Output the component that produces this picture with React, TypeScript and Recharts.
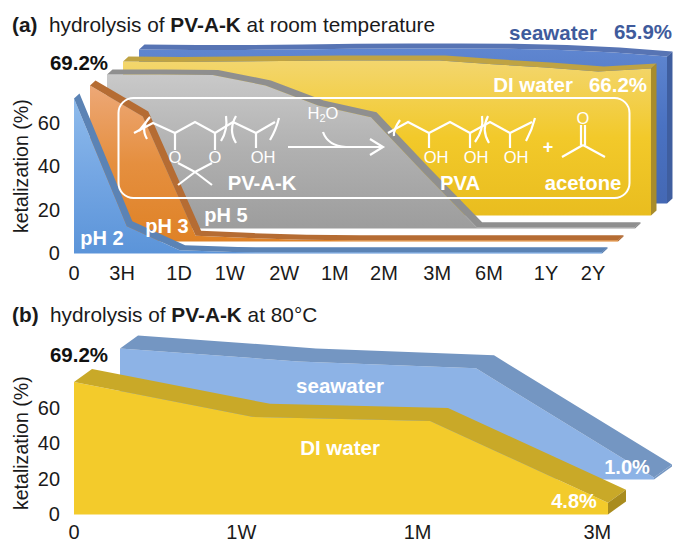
// App.tsx - hydrolysis of PV-A-K, two pseudo-3D area panels
import React from "react";
import { AreaChart, Area, XAxis, YAxis } from "recharts";

const FONT = "'Liberation Sans', Arial, sans-serif";

// panel (a), time positions along the axis
const timeSteps = [0, 1, 2, 3, 4, 5, 6, 7, 8, 9, 10];
const timeTickPos = [0, 0.91, 1.99, 2.95, 3.98, 4.94, 5.87, 6.88, 7.86, 8.94, 9.83];
const timeTickLabels = ["0", "3H", "1D", "1W", "2W", "1M", "2M", "3M", "6M", "1Y", "2Y"];

const ph2 = [71, 12.4, 1.4, 0.6, 0.5, 0.5, 0.5, 0.5, 0.5, 0.5, 0.5];
const ph3 = [71.5, 57.3, 2.6, 1.5, 0.8, 0.5, 0.5, 0.5, 0.5, 0.5, 0.5];
const ph5 = [70.6, 70.6, 70.4, 65.6, 56.4, 51, 25.4, 0.5, 0.5, 0.5, 0.5];
const diWaterA = [70.6, 70.4, 70.6, 70.8, 71, 71.1, 71.1, 69.3, 67.9, 66, 67.4];
const seawaterA = [70.6, 70.4, 70.4, 70.6, 70.9, 71.1, 71.1, 70.9, 70.4, 69.2, 67.4];

// panel (b)
const heatSteps = [0, 1, 2, 3];
const heatTickPos = [0, 0.94, 1.93, 2.94];
const heatTickLabels = ["0", "1W", "1M", "3M"];
const diWaterB = [74.4, 54.8, 52.5, 6.5];
const seawaterB = [73.6, 66.3, 62.4, 1.1];

const yTicks = [0, 20, 40, 60];

const LEFT = 74;
const TOP = 24;
const RIGHT = 40;
const BOTTOM = 40;

// top face and end cap of a layer, computed from the points the area got from its scales
const extrude = (dx: number, dy: number, band: string, cap: string, baseY: number) => (p: any) => {
  if (p.index !== 0) return <g key={p.index} />;
  const pts: { x: number; y: number }[] = p.points;
  const last = pts[pts.length - 1];
  const top = pts.map((q) => `${q.x},${q.y}`);
  const shifted = pts.map((q) => `${q.x + dx},${q.y + dy}`).reverse();
  return (
    <g key="depth">
      <polygon points={[...top, ...shifted].join(" ")} fill={band} />
      <polygon
        points={`${last.x},${last.y} ${last.x + dx},${last.y + dy} ${last.x + dx},${baseY + dy} ${last.x},${baseY}`}
        fill={cap}
      />
    </g>
  );
};

type LayerProps = {
  id: string;
  steps: number[];
  values: number[];
  x0: number; // left of the layer's plot on the page
  base: number; // zero line of the layer on the page
  plotW: number;
  plotH: number;
  grad: [string, string, string];
  band: string;
  cap: string;
  depth: [number, number];
  axes?: { pos: number[]; labels: string[]; margin: number };
};

function Layer({ id, steps, values, x0, base, plotW, plotH, grad, band, cap, depth, axes }: LayerProps) {
  const data = steps.map((x, i) => ({ x, v: values[i] }));
  const w = LEFT + plotW + RIGHT;
  const h = TOP + plotH + BOTTOM;
  const xMax = steps[steps.length - 1];
  return (
    <div style={{ position: "absolute", left: x0 - LEFT, top: base - plotH - TOP, width: w, height: h }}>
      <AreaChart
        width={w}
        height={h}
        data={data}
        margin={{ top: TOP, right: RIGHT, left: axes ? 0 : LEFT, bottom: axes ? 0 : BOTTOM }}
      >
        <defs>
          <linearGradient id={id} x1="0" y1="0" x2="0" y2="1">
            <stop offset="0%" stopColor={grad[0]} />
            <stop offset="50%" stopColor={grad[1]} />
            <stop offset="100%" stopColor={grad[2]} />
          </linearGradient>
        </defs>
        <XAxis
          type="number"
          dataKey="x"
          domain={[0, xMax]}
          hide={!axes}
          height={BOTTOM}
          ticks={axes ? axes.pos : undefined}
          interval={0}
          tickFormatter={(v: number) => (axes ? axes.labels[axes.pos.indexOf(v)] : "")}
          axisLine={false}
          tickLine={false}
          tickMargin={axes ? axes.margin : 0}
          tick={{ fontSize: 20, fontFamily: FONT, fill: "#1a1a1a" }}
        />
        <YAxis
          type="number"
          domain={[0, 80]}
          hide={!axes}
          width={LEFT}
          ticks={yTicks}
          interval={0}
          axisLine={false}
          tickLine={false}
          tickMargin={8}
          tick={{ fontSize: 20, fontFamily: FONT, fill: "#1a1a1a" }}
          label={{
            value: "ketalization (%)",
            angle: -90,
            position: "insideLeft",
            offset: 21,
            style: { fontSize: 19.6, fontFamily: FONT, fill: "#1a1a1a", textAnchor: "middle" },
          }}
        />
        <Area
          dataKey="v"
          type="linear"
          stroke="none"
          fill={`url(#${id})`}
          fillOpacity={1}
          isAnimationActive={false}
          dot={extrude(depth[0], depth[1], band, cap, TOP + plotH)}
          activeDot={false}
        />
      </AreaChart>
    </div>
  );
}

const txt = { fontFamily: FONT, fontWeight: 700, textAnchor: "middle" as const };
const white = { ...txt, fill: "#fff" };

// structure drawing in the rounded box, lines only
const bonds = [
  "M134 133L153 123L175 133L195 122L215 133L233 122L256 133L275 122",
  "M175 133V150M215 133V150M256 133V148",
  "M178 163L195 172L212 163M195 172L178 185M195 172L212 185",
  "M288 147H382M370 139L383 147L370 155",
  "M323 132Q328 146 346 147",
  "M388 133L408 122L429 133L450 122L470 133L490 122L510 133L532 122",
  "M429 133V148M470 133V148M510 133V148",
  "M581 125V145M585 125V145M583 145L562 157M583 145L605 157",
];
const parens = [
  "M150 117Q140 127 147 139M139 131L150 117",
  "M226 116Q228 130 221 141M236 116Q228 130 236 143",
  "M279 118Q276 130 270 140",
  "M400 120Q393 130 394 136",
  "M482 116Q484 130 475 142M488 116Q481 130 489 143",
  "M535 118Q532 130 526 141",
];

function Overlay() {
  return (
    <svg width={675} height={543} style={{ position: "absolute", left: 0, top: 0 }}>
      {/* panel (a) text */}
      <text x={12} y={32} fontFamily={FONT} fontSize={20.8} fill="#1a1a1a">
        <tspan fontWeight={700}>(a)</tspan>
        <tspan x={49}>hydrolysis of </tspan>
        <tspan fontWeight={700}>PV-A-K</tspan>
        <tspan> at room temperature</tspan>
      </text>
      <text x={79} y={70} {...txt} fontSize={20.5} fill="#111">69.2%</text>
      <text x={553} y={40} {...txt} fontSize={20.5} fill="#3f5b9c">seawater</text>
      <text x={643} y={39} {...txt} fontSize={20.5} fill="#3f5b9c">65.9%</text>
      <text x={533} y={92} {...white} fontSize={20.5}>DI water</text>
      <text x={618} y={92} {...white} fontSize={20.5}>66.2%</text>
      <text x={102} y={245} {...white} fontSize={20}>pH 2</text>
      <text x={167} y={233} {...white} fontSize={20}>pH 3</text>
      <text x={226} y={222} {...white} fontSize={20}>pH 5</text>

      <rect x={118.5} y={98} width={511} height={100} rx={15} fill="none" stroke="#fff" strokeWidth={2} />
      {[...bonds, ...parens].map((d, i) => (
        <path key={i} d={d} fill="none" stroke="#fff" strokeWidth={2.2} />
      ))}
      <g fontFamily={FONT} fontSize={16.5} fill="#fff" textAnchor="middle">
        <text x={175} y={163}>O</text>
        <text x={215} y={163}>O</text>
        <text x={263} y={163}>OH</text>
        <text x={436} y={163}>OH</text>
        <text x={476} y={163}>OH</text>
        <text x={516} y={163}>OH</text>
        <text x={583} y={124}>O</text>
        <text x={323} y={119}>H<tspan fontSize={11} dy={3}>2</tspan><tspan dy={-3}>O</tspan></text>
      </g>
      <text x={262} y={190} {...white} fontSize={20.3}>PV-A-K</text>
      <text x={460} y={190} {...white} fontSize={20.3}>PVA</text>
      <text x={583} y={190} {...white} fontSize={20.3}>acetone</text>
      <text x={548} y={153} {...white} fontSize={18}>+</text>

      {/* panel (b) text */}
      <text x={12} y={322} fontFamily={FONT} fontSize={20.8} fill="#1a1a1a">
        <tspan fontWeight={700}>(b)</tspan>
        <tspan x={50}>hydrolysis of </tspan>
        <tspan fontWeight={700}>PV-A-K</tspan>
        <tspan> at 80°C</tspan>
      </text>
      <text x={79} y={362} {...txt} fontSize={20.5} fill="#111">69.2%</text>
      <text x={340} y={393} {...white} fontSize={20.5}>seawater</text>
      <text x={340} y={455} {...white} fontSize={20.5}>DI water</text>
      <text x={627} y={474} {...white} fontSize={20}>1.0%</text>
      <text x={574} y={508} {...white} fontSize={20}>4.8%</text>
    </svg>
  );
}

export default function App() {
  const a = { steps: timeSteps, plotW: 528, plotH: 174.4, depth: [5.5, -5] as [number, number] };
  const b = { steps: heatSteps, plotW: 534, plotH: 142.4, depth: [18, -13] as [number, number] };
  return (
    <div style={{ position: "absolute", left: 0, top: 0, width: 675, height: 543, background: "#fff", overflow: "hidden" }}>
      <Layer {...a} id="seaA" values={seawaterA} x0={139} base={203} grad={["#5f86d0", "#4a72c2", "#4468b4"]} band="#5774b4" cap="#3f5e9f" />
      <Layer {...a} id="diA" values={diWaterA} x0={123} base={215} grad={["#f3d66e", "#f2c92a", "#e9bd1f"]} band="#bfa343" cap="#a88c2c" />
      <Layer {...a} id="ph5" values={ph5} x0={107} base={228} grad={["#c9c9c9", "#b0b0b0", "#9d9d9d"]} band="#8f8f8f" cap="#808080" />
      <Layer {...a} id="ph3" values={ph3} x0={90} base={241} grad={["#eda877", "#e58f3f", "#df8226"]} band="#b56c33" cap="#a85f28" />
      <Layer {...a} id="ph2" values={ph2} x0={74} base={253} grad={["#8ebbec", "#74a6e3", "#5b94d9"]} band="#5b83b5" cap="#4f76a8" axes={{ pos: timeTickPos, labels: timeTickLabels, margin: 6 }} />

      <Layer {...b} id="seaB" values={seawaterB} x0={120} base={479} grad={["#8db3e6", "#8db3e6", "#8db3e6"]} band="#7496c2" cap="#7496c2" />
      <Layer {...b} id="diB" values={diWaterB} x0={74} base={514.5} grad={["#f3cb2b", "#f3cb2b", "#f3cb2b"]} band="#c9a928" cap="#a98c1e" axes={{ pos: heatTickPos, labels: heatTickLabels, margin: 4 }} />
      <Overlay />
    </div>
  );
}
